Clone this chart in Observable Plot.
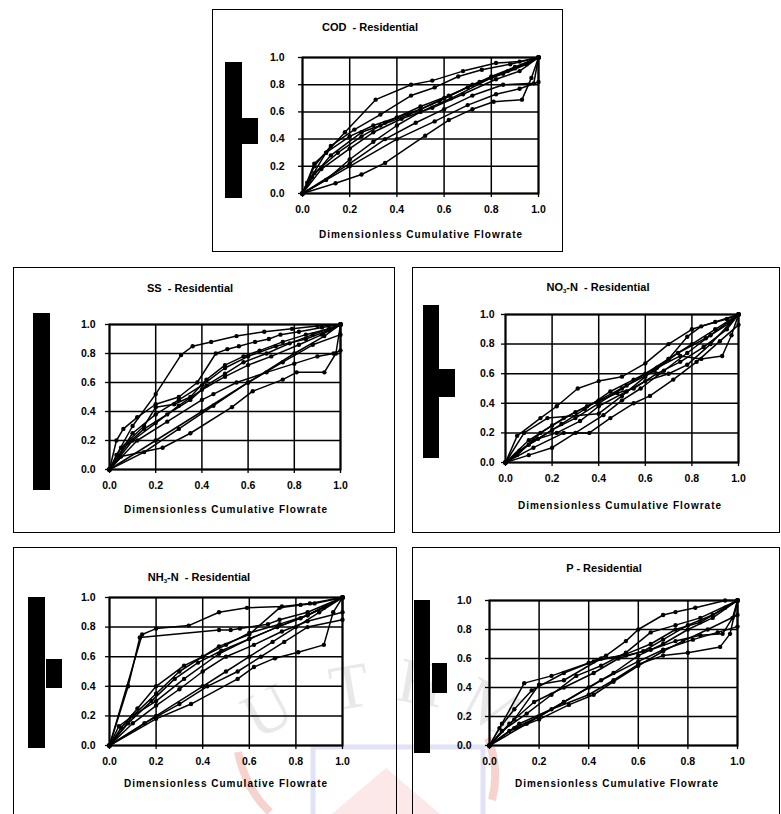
<!DOCTYPE html>
<html>
<head>
<meta charset="utf-8">
<script src="https://cdn.jsdelivr.net/npm/d3@7"></script>
<script src="https://cdn.jsdelivr.net/npm/@observablehq/plot@0.6"></script>
<style>
  html, body { margin: 0; padding: 0; background: #fff; }
  #page { position: relative; width: 781px; height: 814px; overflow: hidden; background: #fff;
          font-family: "Liberation Sans", Arial, sans-serif; color: #000; }
  .box { position: absolute; border: 1.3px solid #000; box-sizing: border-box; }
  .blk { position: absolute; background: #000; }
  .ttl { position: absolute; transform: translate(-50%, -50%); font-size: 11px; font-weight: bold; white-space: nowrap; }
  .xt { position: absolute; transform: translate(-50%, -50%); font-size: 10px; font-weight: bold; letter-spacing: 1px; white-space: nowrap; }
  .ttl sub { font-size: 6px; vertical-align: -2px; }
  svg.pl { position: absolute; overflow: visible; }
  svg.wm { position: absolute; left: 0; top: 0; }
</style>
</head>
<body>
<div id="page"></div>
<script>
// ---------- data ----------
const tickValues = [0, 0.2, 0.4, 0.6, 0.8, 1.0];
const xAxisTitle = "Dimensionless Cumulative Flowrate";

const codSeries = [
  [[0,0],[0.03,0.1],[0.1,0.3],[0.18,0.45],[0.31,0.69],[0.46,0.80],[0.55,0.83],[0.68,0.90],[0.82,0.96],[0.92,0.97],[1,1]],
  [[0,0],[0.02,0.08],[0.05,0.2],[0.12,0.35],[0.22,0.47],[0.33,0.58],[0.46,0.72],[0.56,0.78],[0.66,0.86],[0.76,0.91],[0.88,0.95],[1,1]],
  [[0,0],[0.05,0.22],[0.1,0.3],[0.2,0.42],[0.3,0.5],[0.4,0.56],[0.5,0.62],[0.6,0.7],[0.7,0.78],[0.8,0.86],[0.9,0.93],[1,1]],
  [[0,0],[0.04,0.12],[0.12,0.28],[0.25,0.45],[0.33,0.5],[0.45,0.58],[0.58,0.68],[0.72,0.8],[0.85,0.88],[0.95,0.95],[1,1]],
  [[0,0],[0.08,0.18],[0.2,0.33],[0.3,0.45],[0.42,0.55],[0.55,0.63],[0.68,0.73],[0.82,0.84],[0.92,0.9],[1,1]],
  [[0,0],[0.2,0.22],[0.35,0.4],[0.48,0.52],[0.6,0.62],[0.72,0.72],[0.85,0.8],[0.98,0.81],[1,1]],
  [[0,0],[0.14,0.075],[0.25,0.14],[0.35,0.225],[0.52,0.425],[0.62,0.54],[0.72,0.62],[0.81,0.675],[0.93,0.69],[0.97,0.85],[1,1]],
  [[0,0],[0.2,0.2],[0.4,0.4],[0.56,0.53],[0.7,0.65],[0.82,0.73],[0.92,0.77],[1,0.82],[1,1]],
  [[0,0],[0.05,0.15],[0.15,0.3],[0.25,0.42],[0.35,0.52],[0.5,0.64],[0.62,0.72],[0.75,0.82],[0.87,0.9],[1,1]],
  [[0,0],[0.1,0.1],[0.2,0.25],[0.3,0.38],[0.4,0.5],[0.5,0.6],[0.63,0.7],[0.8,0.85],[0.9,0.92],[1,1]]
];

const ssSeries = [
  [[0,0],[0.03,0.1],[0.1,0.3],[0.2,0.52],[0.31,0.79],[0.36,0.85],[0.44,0.88],[0.55,0.92],[0.67,0.95],[0.79,0.97],[0.9,0.99],[1,1]],
  [[0,0],[0.03,0.2],[0.06,0.28],[0.12,0.36],[0.2,0.45],[0.3,0.5],[0.38,0.6],[0.46,0.8],[0.51,0.83],[0.56,0.85],[0.63,0.88],[0.69,0.9],[0.74,0.93],[0.82,0.95],[0.92,0.98],[1,1]],
  [[0,0],[0.05,0.15],[0.15,0.3],[0.2,0.43],[0.28,0.45],[0.35,0.5],[0.42,0.62],[0.5,0.72],[0.58,0.78],[0.65,0.82],[0.75,0.88],[0.85,0.93],[0.95,0.97],[1,1]],
  [[0,0],[0.08,0.18],[0.15,0.28],[0.25,0.38],[0.35,0.48],[0.42,0.58],[0.5,0.66],[0.58,0.74],[0.68,0.8],[0.78,0.87],[0.88,0.93],[1,1]],
  [[0,0],[0.1,0.2],[0.2,0.32],[0.3,0.44],[0.4,0.55],[0.5,0.64],[0.6,0.72],[0.7,0.78],[0.82,0.86],[0.92,0.93],[1,1]],
  [[0,0],[0.12,0.2],[0.25,0.33],[0.4,0.48],[0.45,0.52],[0.55,0.6],[0.68,0.67],[0.8,0.73],[0.9,0.78],[0.97,0.8],[1,0.82],[1,1]],
  [[0,0],[0.2,0.2],[0.4,0.4],[0.6,0.6],[0.8,0.8],[0.93,0.92],[1,1]],
  [[0,0],[0.15,0.12],[0.3,0.28],[0.45,0.44],[0.6,0.6],[0.75,0.74],[0.88,0.86],[1,0.93],[1,1]],
  [[0,0],[0.05,0.09],[0.23,0.15],[0.35,0.25],[0.53,0.43],[0.62,0.54],[0.75,0.62],[0.81,0.67],[0.93,0.67],[0.98,0.8],[1,1]],
  [[0,0],[0.1,0.25],[0.2,0.38],[0.3,0.48],[0.4,0.58],[0.5,0.7],[0.6,0.78],[0.72,0.85],[0.85,0.9],[0.95,0.96],[1,1]]
];

const no3Series = [
  [[0,0],[0.05,0.18],[0.15,0.3],[0.22,0.38],[0.31,0.5],[0.4,0.55],[0.5,0.58],[0.6,0.67],[0.7,0.8],[0.8,0.9],[0.9,0.95],[1,1]],
  [[0,0],[0.08,0.2],[0.18,0.3],[0.4,0.33],[0.5,0.45],[0.6,0.58],[0.7,0.7],[0.78,0.85],[0.84,0.92],[0.95,0.97],[1,1]],
  [[0,0],[0.1,0.12],[0.2,0.22],[0.3,0.3],[0.4,0.4],[0.5,0.5],[0.6,0.6],[0.7,0.7],[0.8,0.8],[0.9,0.9],[1,1]],
  [[0,0],[0.12,0.1],[0.25,0.2],[0.36,0.2],[0.45,0.3],[0.55,0.4],[0.62,0.45],[0.72,0.56],[0.82,0.68],[0.92,0.82],[1,0.93],[1,1]],
  [[0,0],[0.1,0.05],[0.2,0.1],[0.3,0.2],[0.42,0.32],[0.5,0.42],[0.58,0.5],[0.68,0.62],[0.78,0.74],[0.88,0.86],[1,1]],
  [[0,0],[0.06,0.08],[0.14,0.16],[0.24,0.26],[0.34,0.36],[0.45,0.48],[0.55,0.56],[0.65,0.64],[0.75,0.72],[0.84,0.7],[0.93,0.72],[0.97,0.86],[1,1]],
  [[0,0],[0.1,0.15],[0.2,0.25],[0.3,0.34],[0.4,0.42],[0.52,0.52],[0.64,0.62],[0.74,0.74],[0.86,0.84],[0.96,0.94],[1,1]],
  [[0,0],[0.05,0.05],[0.15,0.2],[0.25,0.3],[0.35,0.38],[0.48,0.47],[0.55,0.5],[0.65,0.6],[0.75,0.68],[0.85,0.78],[0.95,0.9],[1,1]],
  [[0,0],[0.12,0.15],[0.22,0.2],[0.32,0.28],[0.4,0.38],[0.52,0.48],[0.6,0.55],[0.7,0.6],[0.78,0.66],[0.88,0.8],[1,1]]
];

const nh3Series = [
  [[0,0],[0.14,0.75],[0.2,0.79],[0.34,0.81],[0.47,0.9],[0.59,0.93],[0.74,0.94],[0.86,0.96],[1,1]],
  [[0,0],[0.08,0.4],[0.13,0.73],[0.47,0.78],[0.52,0.78],[0.56,0.79],[0.68,0.82],[0.73,0.85],[0.85,0.9],[1,1]],
  [[0,0],[0.05,0.12],[0.12,0.25],[0.2,0.4],[0.32,0.54],[0.4,0.6],[0.47,0.67],[0.6,0.75],[0.73,0.93],[0.82,0.95],[0.88,0.96],[1,1]],
  [[0,0],[0.1,0.2],[0.2,0.35],[0.3,0.5],[0.4,0.6],[0.5,0.68],[0.6,0.76],[0.73,0.82],[0.85,0.88],[1,1]],
  [[0,0],[0.08,0.15],[0.18,0.3],[0.28,0.45],[0.38,0.56],[0.48,0.64],[0.6,0.72],[0.72,0.8],[0.82,0.86],[0.92,0.93],[1,1]],
  [[0,0],[0.1,0.15],[0.2,0.27],[0.3,0.38],[0.4,0.5],[0.5,0.6],[0.62,0.68],[0.74,0.77],[0.85,0.84],[1,0.9],[1,1]],
  [[0,0],[0.2,0.2],[0.4,0.4],[0.5,0.5],[0.6,0.6],[0.7,0.7],[0.8,0.8],[0.9,0.9],[1,1]],
  [[0,0],[0.15,0.15],[0.3,0.28],[0.42,0.4],[0.55,0.5],[0.65,0.6],[0.75,0.7],[0.85,0.8],[1,0.85],[1,1]],
  [[0,0],[0.2,0.18],[0.35,0.28],[0.55,0.45],[0.62,0.53],[0.71,0.59],[0.81,0.63],[0.92,0.68],[0.96,0.9],[1,1]],
  [[0,0],[0.04,0.13],[0.1,0.2],[0.2,0.3],[0.32,0.45],[0.47,0.62],[0.6,0.72],[0.72,0.8],[0.85,0.88],[1,1]]
];

const pSeries = [
  [[0,0],[0.05,0.15],[0.14,0.43],[0.25,0.48],[0.4,0.57],[0.47,0.62],[0.55,0.72],[0.6,0.8],[0.7,0.9],[0.75,0.92],[0.83,0.95],[0.95,1.0],[1,1]],
  [[0,0],[0.04,0.12],[0.1,0.25],[0.17,0.38],[0.3,0.5],[0.42,0.58],[0.55,0.63],[0.65,0.7],[0.75,0.8],[0.85,0.85],[0.95,0.95],[1,1]],
  [[0,0],[0.08,0.15],[0.18,0.3],[0.3,0.4],[0.42,0.5],[0.52,0.6],[0.62,0.65],[0.7,0.73],[0.8,0.83],[0.9,0.9],[1,1]],
  [[0,0],[0.1,0.18],[0.2,0.42],[0.3,0.45],[0.45,0.6],[0.55,0.62],[0.65,0.66],[0.75,0.72],[0.85,0.76],[0.94,0.77],[0.98,0.88],[1,1]],
  [[0,0],[0.12,0.15],[0.25,0.25],[0.4,0.35],[0.5,0.45],[0.6,0.56],[0.7,0.62],[0.8,0.64],[0.93,0.68],[0.97,0.77],[1,1]],
  [[0,0],[0.15,0.15],[0.3,0.3],[0.45,0.45],[0.6,0.58],[0.7,0.66],[0.82,0.73],[0.92,0.78],[1,0.82],[1,1]],
  [[0,0],[0.1,0.12],[0.2,0.2],[0.3,0.3],[0.4,0.4],[0.5,0.5],[0.6,0.62],[0.7,0.7],[0.8,0.8],[0.9,0.88],[1,1]],
  [[0,0],[0.05,0.1],[0.15,0.22],[0.25,0.35],[0.35,0.48],[0.45,0.55],[0.55,0.64],[0.65,0.78],[0.75,0.83],[0.85,0.88],[1,1]],
  [[0,0],[0.08,0.1],[0.2,0.18],[0.32,0.28],[0.42,0.35],[0.5,0.44],[0.6,0.55],[0.7,0.65],[0.78,0.72],[0.88,0.8],[1,0.9],[1,1]]
];

// ---------- layout ----------
const panels = [
  { title: "COD &nbsp;- Residential", series: codSeries, yPad: 14,
    frame: {l: 302, t: 57, r: 538, b: 193}, titlePos: [370, 27], xtPos: [421, 234],
    box: {l: 212, t: 9, r: 563, b: 252},
    bars: [{l: 225, t: 62, r: 242, b: 198}, {l: 242, t: 118, r: 258, b: 144}] },
  { title: "SS &nbsp;- Residential", series: ssSeries, yPad: 10,
    frame: {l: 109, t: 324, r: 340, b: 469}, titlePos: [190, 288], xtPos: [226, 509],
    box: {l: 13, t: 267, r: 395, b: 533},
    bars: [{l: 33, t: 313, r: 50, b: 490}] },
  { title: "NO<sub>3</sub>-N &nbsp;- Residential", series: no3Series, yPad: 7,
    frame: {l: 505, t: 314, r: 738, b: 462}, titlePos: [598, 287], xtPos: [620, 505],
    box: {l: 412, t: 267, r: 780, b: 533},
    bars: [{l: 423, t: 305, r: 439, b: 458}, {l: 439, t: 369, r: 455, b: 397}] },
  { title: "NH<sub>3</sub>-N &nbsp;- Residential", series: nh3Series, yPad: 10,
    frame: {l: 109, t: 597, r: 342, b: 745}, titlePos: [199, 577], xtPos: [226, 783],
    box: {l: 13, t: 547, r: 397, b: 830},
    bars: [{l: 28, t: 597, r: 45, b: 748}, {l: 46, t: 659, r: 62, b: 688}] },
  { title: "P - Residential", series: pSeries, yPad: 14,
    frame: {l: 489, t: 600, r: 737, b: 745}, titlePos: [604, 568], xtPos: [617, 783],
    box: {l: 412, t: 547, r: 780, b: 830},
    bars: [{l: 414, t: 600, r: 430, b: 753}, {l: 432, t: 663, r: 447, b: 693}] }
];

const page = document.getElementById("page");
const fmt = d3.format(".1f");
const M = {l: 44, t: 12, r: 12, b: 32};

// faint scan watermark (background decoration)
page.insertAdjacentHTML("beforeend", `
<svg class="wm" width="781" height="814" viewBox="0 0 781 814">
  <g font-family="'Liberation Serif', serif" font-size="64" fill="#e8e8e8">
    <text x="268" y="732" transform="rotate(-28 268 712)" text-anchor="middle">U</text>
    <text x="350" y="708" transform="rotate(-10 350 690)" text-anchor="middle">T</text>
    <text x="420" y="704" transform="rotate(10 420 690)" text-anchor="middle">H</text>
    <text x="490" y="728" transform="rotate(28 490 712)" text-anchor="middle">M</text>
  </g>
  <rect x="313" y="747" width="170" height="80" fill="none" stroke="#e2e2f6" stroke-width="5"/>
  <path d="M386 768 L440 814 L332 814 Z" fill="#fce8e8"/>
  <path d="M238 752 Q246 790 270 812" fill="none" stroke="#f7d3d0" stroke-width="8"/>
  <path d="M488 738 Q500 770 492 800" fill="none" stroke="#f7d3d0" stroke-width="8"/>
</svg>`);

function addDiv(cls, r, html) {
  const d = document.createElement("div");
  d.className = cls;
  if (r) {
    d.style.left = r.l + "px"; d.style.top = r.t + "px";
    d.style.width = (r.r - r.l) + "px"; d.style.height = (r.b - r.t) + "px";
  }
  if (html != null) d.innerHTML = html;
  page.appendChild(d);
  return d;
}

for (const p of panels) {
  addDiv("box", p.box);
  for (const b of p.bars) addDiv("blk", b);
  const t = addDiv("ttl", null, p.title);
  t.style.left = p.titlePos[0] + "px"; t.style.top = p.titlePos[1] + "px";
  const xt = addDiv("xt", null, xAxisTitle);
  xt.style.left = p.xtPos[0] + "px"; xt.style.top = p.xtPos[1] + "px";

  const rows = p.series.flatMap((s, i) => s.map(([x, y]) => ({s: i, x, y})));
  const fw = p.frame.r - p.frame.l, fh = p.frame.b - p.frame.t;
  const svg = Plot.plot({
    width: fw + M.l + M.r, height: fh + M.t + M.b,
    marginLeft: M.l, marginTop: M.t, marginRight: M.r, marginBottom: M.b,
    x: {domain: [0, 1]}, y: {domain: [0, 1]},
    style: {fontFamily: "'Liberation Sans', Arial, sans-serif", fontSize: "10.5px", fontWeight: "bold", color: "#000", background: "transparent"},
    marks: [
      Plot.gridX(tickValues, {stroke: "#000", strokeOpacity: 1, strokeWidth: 1.5}),
      Plot.gridY(tickValues, {stroke: "#000", strokeOpacity: 1, strokeWidth: 1.5}),
      Plot.axisX(tickValues, {tickFormat: fmt, tickSize: 4, tickPadding: 8, label: null, stroke: "#000", strokeWidth: 1.3}),
      Plot.axisY(tickValues, {tickFormat: fmt, tickSize: 4, tickPadding: p.yPad, label: null, stroke: "#000", strokeWidth: 1.3}),
      Plot.frame({stroke: "#000", strokeWidth: 2}),
      Plot.line(rows, {x: "x", y: "y", z: "s", stroke: "#000", strokeWidth: 1.5}),
      Plot.dot(rows, {x: "x", y: "y", r: 2.2, fill: "#000", stroke: "none"})
    ]
  });
  svg.classList.add("pl");
  svg.style.left = (p.frame.l - M.l) + "px";
  svg.style.top = (p.frame.t - M.t) + "px";
  page.appendChild(svg);
}
</script>
</body>
</html>
